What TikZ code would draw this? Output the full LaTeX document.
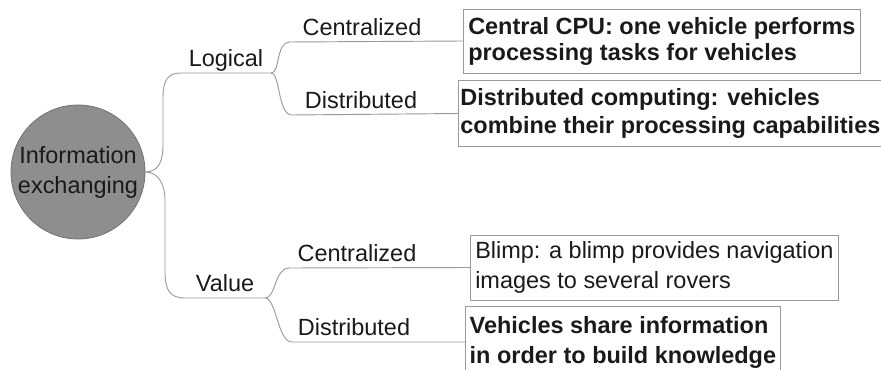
\documentclass[tikz,border=0pt]{standalone}
\usepackage{fontspec}
\setmainfont{Liberation Sans}
\usetikzlibrary{positioning}
\definecolor{hub}{HTML}{8E8E8E}
\definecolor{hubline}{HTML}{707070}
\definecolor{wire}{HTML}{9A9A9A}
\definecolor{ink}{HTML}{1A1A1A}

\begin{document}
\begin{tikzpicture}[x=0.75pt, y=-0.75pt,
    every node/.style={font=\fontsize{17.6pt}{21pt}\selectfont, text=ink},
    branch/.style={draw=wire, line width=0.7pt},
    tag/.style={anchor=south, inner sep=0pt, text depth=4.5pt, minimum width=#1},
    leaf/.style 2 args={draw=wire, line width=0.6pt, anchor=west, align=left, inner xsep=2pt, inner ysep=0pt, minimum width=#1, minimum height=#2}]
  \useasboundingbox (0,0) rectangle (881,370);

  % centre
  \node[circle, fill=hub, draw=hubline, line width=0.6pt, minimum size=100.5pt, inner sep=0pt, align=center,
        font=\fontsize{17.6pt}{22.5pt}\selectfont] (info) at (78,172) {Information\\exchanging};

  % labels on the branches
  \node[tag=67.5pt] (logical) at (226,73) {Logical};
  \node[tag=60pt] (value) at (225,298) {Value};
  \node[tag=108pt] (lcent) at (362,42) {Centralized};
  \node[tag=103.5pt] (ldist) at (361,115) {Distributed};
  \node[tag=100.5pt] (vcent) at (357,268) {Centralized};
  \node[tag=93pt] (vdist) at (354,342) {Distributed};

  % leaves
  \node[leaf={297.75pt}{48pt}, font=\bfseries\fontsize{17.6pt}{19.5pt}\selectfont] (bcpu) at (463,41)
    {Central CPU: one vehicle performs\\processing tasks for vehicles};
  \node[leaf={318pt}{50pt}, inner xsep=1.5pt, font=\bfseries\fontsize{17.6pt}{21pt}\selectfont] (bdist) at (458,113.5)
    {Distributed computing: vehicles\\combine their processing capabilities};
  \node[leaf={276pt}{48.75pt}, font=\fontsize{17.6pt}{22.5pt}\selectfont] (bblimp) at (470,267.5)
    {Blimp: a blimp provides navigation\\images to several rovers};
  \node[leaf={236.25pt}{54pt}, font=\bfseries\fontsize{17.6pt}{22.5pt}\selectfont] (bshare) at (465,342)
    {Vehicles share information\\in order to build knowledge};

  % trunk
  \draw[branch] (info.east) .. controls (158,172) and (163,162) .. (163,145) -- (163,98)
    .. controls (163,80) and (168,73) .. (logical.south west) -- (logical.south east);
  \draw[branch] (info.east) .. controls (158,172) and (165,184) .. (165,200) -- (165,272)
    .. controls (165,290) and (170,298) .. (value.south west) -- (value.south east);

  % sub-branches
  \draw[branch] (logical.south east) .. controls (280,73) and (276,42) .. (lcent.south west) -- (bcpu.west);
  \draw[branch] (logical.south east) .. controls (280,73) and (278,115) .. (ldist.south west) -- (bdist.west);
  \draw[branch] (value.south east) .. controls (276,298) and (274,268) .. (vcent.south west) -- (bblimp.west);
  \draw[branch] (value.south east) .. controls (276,298) and (278,342) .. (vdist.south west) -- (bshare.west);
\end{tikzpicture}
\end{document}
